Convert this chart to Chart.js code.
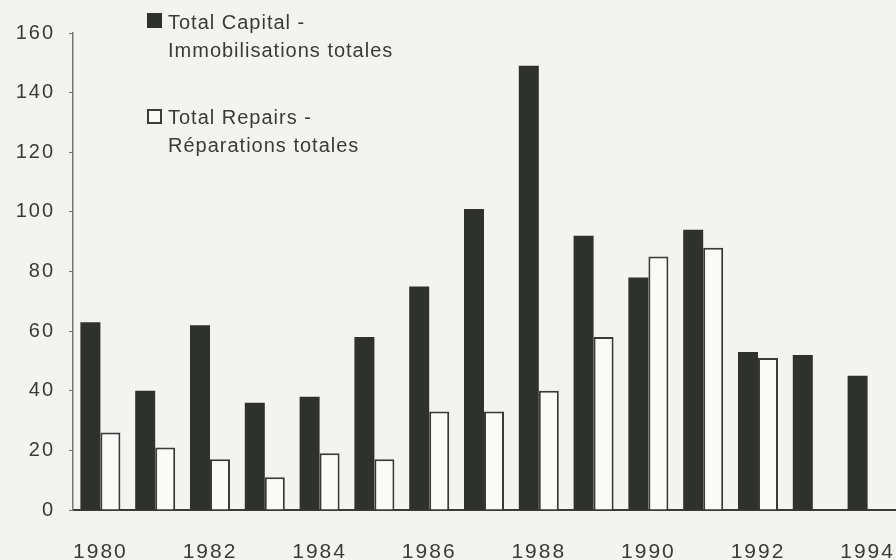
<!DOCTYPE html>
<html>
<head>
<meta charset="utf-8">
<script src="https://cdn.jsdelivr.net/npm/chart.js@4"></script>
<style>
    html, body { margin: 0; padding: 0; background: #f3f3f0; }
    #wrap { position: relative; width: 896px; height: 560px; }
    canvas { position: absolute; left: 0; top: 0; }
    .leg { position: absolute; font-family: "Liberation Sans", Arial, sans-serif; font-size: 20px;
           letter-spacing: 1px; color: #3a3a38; line-height: 28px; }
    .box { position: absolute; width: 15px; height: 15px; box-sizing: border-box; }
</style>
</head>
<body>
<div id="wrap">
    <canvas id="chart" width="896" height="560"></canvas>
    <div class="box" style="left:147px; top:13px; background:#2f312e; border:1px solid #2f312e;"></div>
    <div class="leg" style="left:168px; top:8px;">Total Capital -<br>Immobilisations totales</div>
    <div class="box" style="left:147px; top:109px; background:#fafaf8; border:2px solid #3a3a38;"></div>
    <div class="leg" style="left:168px; top:103px;">Total Repairs -<br>Réparations totales</div>
</div>
<script>
// ---------------- Daten ----------------
const years = ["1980","1981","1982","1983","1984","1985","1986","1987",
               "1988","1989","1990","1991","1992","1993","1994"];
const totalCapital = [63, 40, 62, 36, 38, 58, 75, 101, 149, 92, 78, 94, 53, 52, 45];
const totalRepairs = [26, 21, 17, 11, 19, 17, 33, 33, 40, 58, 85, 88, 51, null, null];
const yTicks = [0, 20, 40, 60, 80, 100, 120, 140, 160];

// ---------------- Diagramm ----------------
const spacingPlugin = {
    id: "spacing",
    beforeDraw(chart) { chart.ctx.letterSpacing = "2px"; }
};

const ctx = document.getElementById("chart").getContext("2d");

new Chart(ctx, {
    type: "bar",
    data: {
        labels: years,
        datasets: [
            {
                label: "Total Capital - Immobilisations totales",
                data: totalCapital,
                backgroundColor: "#2f312e",
                borderWidth: 0
            },
            {
                label: "Total Repairs - Réparations totales",
                data: totalRepairs,
                backgroundColor: "#fafaf8",
                borderColor: "#3a3a38",
                borderWidth: 2
            }
        ]
    },
    plugins: [spacingPlugin],
    options: {
        responsive: false,
        animation: false,
        devicePixelRatio: 1,
        layout: { padding: { top: 33, right: 1, left: 0, bottom: 0 } },
        datasets: { bar: { categoryPercentage: 0.73, barPercentage: 1.0 } },
        plugins: { legend: { display: false }, tooltip: { enabled: false } },
        scales: {
            x: {
                grid: { display: false },
                border: { display: true, color: "#3a3a38", width: 2 },
                ticks: {
                    autoSkip: false,
                    maxRotation: 0,
                    padding: 22,
                    color: "#3a3a38",
                    font: { family: "Liberation Sans", size: 21 },
                    callback: (v, i) => (i % 2 === 0 ? years[i] : "")
                },
                afterFit: s => { s.height = 50; s.paddingLeft = 0; s.paddingRight = 0; }
            },
            y: {
                min: 0,
                max: 160,
                afterBuildTicks: s => { s.ticks = yTicks.map(v => ({ value: v })); },
                grid: { display: true, drawOnChartArea: false, drawTicks: true, tickLength: 4, color: "#777" },
                border: { display: true, color: "#777", width: 1.5 },
                ticks: {
                    padding: 14,
                    color: "#3a3a38",
                    font: { family: "Liberation Sans", size: 20 }
                },
                afterFit: s => { s.width = 73; }
            }
        }
    }
});
</script>
</body>
</html>
